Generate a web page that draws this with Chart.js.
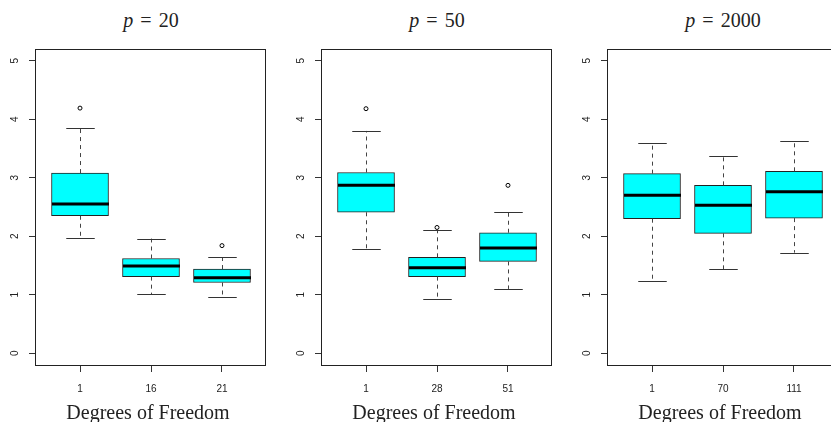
<!DOCTYPE html>
<html>
<head>
<meta charset="utf-8">
<script src="https://cdn.jsdelivr.net/npm/chart.js@4"></script>
<style>
    html, body { margin: 0; padding: 0; background: #ffffff; width: 831px; height: 422px; overflow: hidden; }
    body { position: relative; }
    .panel { position: absolute; top: 0; width: 280px; height: 422px; }
    .panel canvas { position: absolute; left: 0; top: 0; }
    .title, .xlab {
        position: absolute; left: 36px; width: 230px; text-align: center;
        font-family: "Liberation Serif", "DejaVu Serif", serif; font-size: 20px; line-height: 20px;
        color: #222; white-space: nowrap;
    }
    .title { top: 10px; }
    .title .eq { margin: 0 7px; }
    .xlab { top: 402px; left: 33px; }
</style>
</head>
<body>

<div class="panel" style="left:0px">
    <div class="title"><i>p</i><span class="eq">=</span>20</div>
    <canvas id="panel20" width="280" height="422"></canvas>
    <div class="xlab">Degrees of Freedom</div>
</div>
<div class="panel" style="left:286px">
    <div class="title"><i>p</i><span class="eq">=</span>50</div>
    <canvas id="panel50" width="280" height="422"></canvas>
    <div class="xlab">Degrees of Freedom</div>
</div>
<div class="panel" style="left:572px">
    <div class="title"><i>p</i><span class="eq">=</span>2000</div>
    <canvas id="panel2000" width="280" height="422"></canvas>
    <div class="xlab">Degrees of Freedom</div>
</div>

<script>
// box positions and axis ticks (shared by the three panels)
const boxPositions = [1, 2, 3];
const yTickValues = [0, 1, 2, 3, 4, 5];

// p = 20
const p20Labels = ["1", "16", "21"];
const p20Low = [1.97, 1.01, 0.97];
const p20Q1 = [2.35, 1.31, 1.21];
const p20Median = [2.55, 1.49, 1.29];
const p20Q3 = [3.08, 1.62, 1.44];
const p20High = [3.85, 1.96, 1.65];
const p20Outliers = [[4.19], [], [1.84]];

// p = 50
const p50Labels = ["1", "28", "51"];
const p50Low = [1.79, 0.92, 1.10];
const p50Q1 = [2.41, 1.31, 1.57];
const p50Median = [2.87, 1.46, 1.80];
const p50Q3 = [3.09, 1.64, 2.06];
const p50High = [3.80, 2.11, 2.41];
const p50Outliers = [[4.18], [2.15], [2.87]];

// p = 2000
const p2000Labels = ["1", "70", "111"];
const p2000Low = [1.23, 1.44, 1.72];
const p2000Q1 = [2.30, 2.05, 2.31];
const p2000Median = [2.70, 2.53, 2.76];
const p2000Q3 = [3.07, 2.87, 3.11];
const p2000High = [3.60, 3.38, 3.62];
const p2000Outliers = [[], [], []];

Chart.defaults.font.family = "'Liberation Sans', Arial, sans-serif";
Chart.defaults.font.size = 10;
Chart.defaults.color = "#222";

// whiskers, caps, medians, frame and rotated y labels
const boxDetails = {
    id: "boxDetails",
    afterDatasetsDraw(chart) {
        const ctx = chart.ctx;
        const xs = chart.scales.x;
        const ys = chart.scales.y;
        const stats = chart.data.datasets[0].stats;
        const bars = chart.getDatasetMeta(0).data;

        ctx.save();
        stats.low.forEach((lo, i) => {
            const px = Math.round(xs.getPixelForValue(boxPositions[i])) + 0.5;
            const half = bars[i].width / 2;
            const cap = half / 2;

            // dashed whiskers
            ctx.strokeStyle = "#444";
            ctx.lineWidth = 1;
            ctx.setLineDash([4, 4]);
            ctx.beginPath();
            ctx.moveTo(px, ys.getPixelForValue(stats.q3[i]));
            ctx.lineTo(px, ys.getPixelForValue(stats.high[i]));
            ctx.moveTo(px, ys.getPixelForValue(stats.q1[i]));
            ctx.lineTo(px, ys.getPixelForValue(lo));
            ctx.stroke();

            // caps
            ctx.strokeStyle = "#333";
            ctx.setLineDash([]);
            ctx.beginPath();
            const yHi = Math.round(ys.getPixelForValue(stats.high[i])) + 0.5;
            const yLo = Math.round(ys.getPixelForValue(lo)) + 0.5;
            ctx.moveTo(px - cap, yHi);
            ctx.lineTo(px + cap, yHi);
            ctx.moveTo(px - cap, yLo);
            ctx.lineTo(px + cap, yLo);
            ctx.stroke();

            // median
            ctx.strokeStyle = "#000";
            ctx.lineWidth = 3;
            ctx.beginPath();
            const yMed = ys.getPixelForValue(stats.median[i]);
            ctx.moveTo(px - half, yMed);
            ctx.lineTo(px + half, yMed);
            ctx.stroke();
        });
        ctx.restore();
    },
    afterDraw(chart) {
        const ctx = chart.ctx;
        const area = chart.chartArea;
        const ys = chart.scales.y;

        ctx.save();
        ctx.strokeStyle = "#222";
        ctx.lineWidth = 1;
        ctx.strokeRect(Math.round(area.left) - 0.5, Math.round(area.top) + 0.5,
            Math.round(area.right - area.left), Math.round(area.bottom - area.top));

        ctx.fillStyle = "#222";
        ctx.font = "10px 'Liberation Sans', Arial, sans-serif";
        ctx.textAlign = "center";
        ctx.textBaseline = "middle";
        ys.ticks.forEach(t => {
            ctx.save();
            ctx.translate(area.left - 21, ys.getPixelForValue(t.value));
            ctx.rotate(-Math.PI / 2);
            ctx.fillText(String(t.value), 0, 0);
            ctx.restore();
        });
        ctx.restore();
    }
};

function makePanel(id, labels, low, q1, median, q3, high, outliers) {

    const outlierPoints = [];
    outliers.forEach((list, i) => {
        list.forEach(v => outlierPoints.push({ x: boxPositions[i], y: v }));
    });

    return new Chart(document.getElementById(id), {
        type: "bar",
        data: {
            datasets: [
                {
                    type: "bar",
                    data: boxPositions.map((x, i) => ({ x: x, y: [q1[i], q3[i]] })),
                    stats: { low, q1, median, q3, high },
                    backgroundColor: "#00ffff",
                    borderColor: "#222",
                    borderWidth: 1,
                    borderSkipped: false,
                    barThickness: 57
                },
                {
                    type: "scatter",
                    data: outlierPoints,
                    pointStyle: "circle",
                    pointRadius: 2,
                    borderColor: "#000",
                    borderWidth: 1,
                    backgroundColor: "rgba(0,0,0,0)"
                }
            ]
        },
        options: {
            responsive: false,
            animation: false,
            layout: { padding: { left: 0, right: 14, top: 49, bottom: 0 } },
            plugins: {
                legend: { display: false },
                tooltip: { enabled: false }
            },
            scales: {
                x: {
                    type: "linear",
                    min: 0.38,
                    max: 3.62,
                    offset: false,
                    afterBuildTicks: scale => {
                        scale.ticks = boxPositions.map(v => ({ value: v }));
                    },
                    afterFit: scale => { scale.height = 57; },
                    ticks: {
                        padding: 11,
                        maxRotation: 0,
                        color: "#222",
                        callback: (value, index) => labels[index]
                    },
                    grid: {
                        offset: false,
                        drawOnChartArea: false,
                        tickLength: 7,
                        color: "#333"
                    },
                    border: { display: false }
                },
                y: {
                    min: -0.2,
                    max: 5.2,
                    afterBuildTicks: scale => {
                        scale.ticks = yTickValues.map(v => ({ value: v }));
                    },
                    afterFit: scale => { scale.width = 36; },
                    ticks: { display: false },
                    grid: {
                        drawOnChartArea: false,
                        tickLength: 7,
                        color: "#333"
                    },
                    border: { display: false }
                }
            }
        },
        plugins: [boxDetails]
    });
}

makePanel("panel20", p20Labels, p20Low, p20Q1, p20Median, p20Q3, p20High, p20Outliers);
makePanel("panel50", p50Labels, p50Low, p50Q1, p50Median, p50Q3, p50High, p50Outliers);
makePanel("panel2000", p2000Labels, p2000Low, p2000Q1, p2000Median, p2000Q3, p2000High, p2000Outliers);
</script>
</body>
</html>
